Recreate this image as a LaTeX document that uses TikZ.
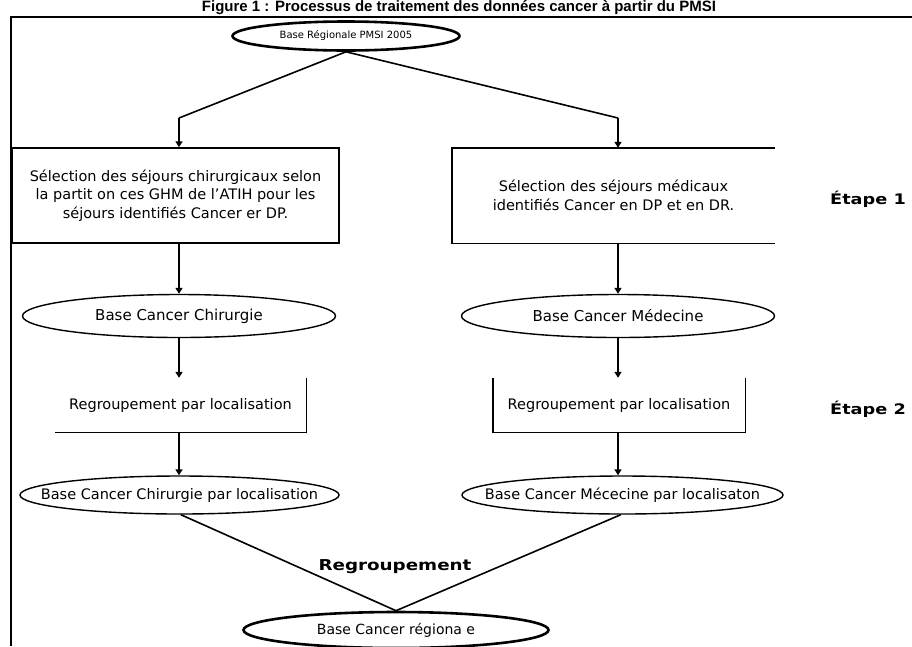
\documentclass[tikz,border=0pt]{standalone}
\usepackage{fontspec}
\setmainfont{DejaVu Sans}
\newfontfamily\titlefont{Liberation Sans}
\newfontfamily\widefont[FakeStretch=1.22]{DejaVu Sans}
\newcommand\ztext[1]{\makebox[0pt]{#1}}
\usetikzlibrary{shapes.geometric,arrows.meta}
\begin{document}
\begin{tikzpicture}[x=1pt,y=-1pt,
  ell/.style={ellipse, draw, line width=1.4pt, inner sep=0pt, align=center},
  thickell/.style={ell, line width=2.6pt},
  boxnode/.style={inner sep=0pt, align=center, font=\fontsize{14.5}{18.5}\selectfont},
  conn/.style={line width=1.6pt},
  arr/.style={line width=2.6pt, -{Triangle[length=6pt,width=7pt]}},
  partial/.style={line width=1.4pt},
  stage/.style={font=\widefont\fontsize{14.5}{16}\selectfont\bfseries},
]
\useasboundingbox (0,0) rectangle (912,646);
% title and frame
\node[font=\titlefont\fontsize{15}{17}\selectfont\bfseries, anchor=base] (title) at (459,11) {Figure 1 : Processus de traitement des données cancer à partir du PMSI};
\coordinate (fa) at (11,646);
\coordinate (fb) at (11,16.5);
\coordinate (fc) at (914,16.5);
\draw[line width=2pt] (fa) -- (fb) -- (fc);

% top ellipse
\node[thickell, minimum width=227pt, minimum height=29pt, font=\fontsize{10}{12}\selectfont] (top) at (346,36) {\ztext{Base Régionale PMSI 2005}};

% step 1 boxes
\node[boxnode, draw, line width=1.5pt, minimum width=327pt, minimum height=95pt] (selc) at (175.5,195.5)
  {Sélection des séjours chirurgicaux selon\\la partit on ces GHM de l'ATIH pour les\\séjours identifiés Cancer er DP.};
\node[boxnode, minimum width=323pt, minimum height=95pt] (selm) at (613.5,195.5)
  {Sélection des séjours médicaux\\identifiés Cancer en DP et en DR.};
\draw[partial] (selm.north east) -- (selm.north west) -- (selm.south west) -- (selm.south east);

\coordinate (kl) at (179,118);
\coordinate (kr) at (618,118);
\draw[conn] (top.south) -- (kl);
\draw[conn] (top.south) -- (kr);
\draw[arr] (kl) -- (kl |- selc.north);
\draw[arr] (kr) -- (kr |- selm.north);

\node[stage] (e1) at (868,199) {Étape 1};

% base ellipses
\node[ell, minimum width=313pt, minimum height=43pt, font=\fontsize{15}{17}\selectfont] (bc) at (179,316) {\ztext{Base Cancer Chirurgie}};
\node[ell, minimum width=313pt, minimum height=43pt, font=\fontsize{15}{17}\selectfont] (bm) at (618,316) {\ztext{Base Cancer Médecine}};
\draw[arr] (selc.south -| bc) -- (bc.north);
\draw[arr] (selm.south -| bm) -- (bm.north);

% regroupement boxes
\node[boxnode, minimum width=251pt, minimum height=54pt] (rc) at (180.5,405) {Regroupement par localisation};
\draw[partial] (rc.north east) -- (rc.south east) -- (rc.south west);
\node[boxnode, minimum width=252pt, minimum height=54pt] (rm) at (619,405) {Regroupement par localisation};
\draw[partial] (rm.north west) -- (rm.south west) -- (rm.south east) -- (rm.north east);
\draw[arr] (bc.south) -- (bc.south |- rc.north);
\draw[arr] (bm.south) -- (bm.south |- rm.north);

\node[stage] (e2) at (868,409) {Étape 2};

% localisation ellipses
\node[ell, minimum width=319pt, minimum height=38pt, font=\fontsize{14.5}{16}\selectfont] (lc) at (179.5,495) {\ztext{Base Cancer Chirurgie par localisation}};
\node[ell, minimum width=321pt, minimum height=38pt, font=\fontsize{14.5}{16}\selectfont] (lm) at (622.5,495) {\ztext{Base Cancer Mécecine par localisaton}};
\draw[arr] (rc.south -| bc) -- (lc.north -| bc);
\draw[arr] (rm.south -| bm) -- (lm.north -| bm);

% final
\node[thickell, minimum width=305pt, minimum height=36pt, font=\fontsize{14}{16}\selectfont] (fin) at (396,630) {\ztext{Base Cancer régiona e}};
\draw[conn] (lc.-86) -- (fin.north);
\draw[conn] (lm.-95) -- (fin.north);
\node[font=\widefont\fontsize{15}{17}\selectfont\bfseries, anchor=base] (rg) at (395,570) {Regroupement};
\end{tikzpicture}
\end{document}
